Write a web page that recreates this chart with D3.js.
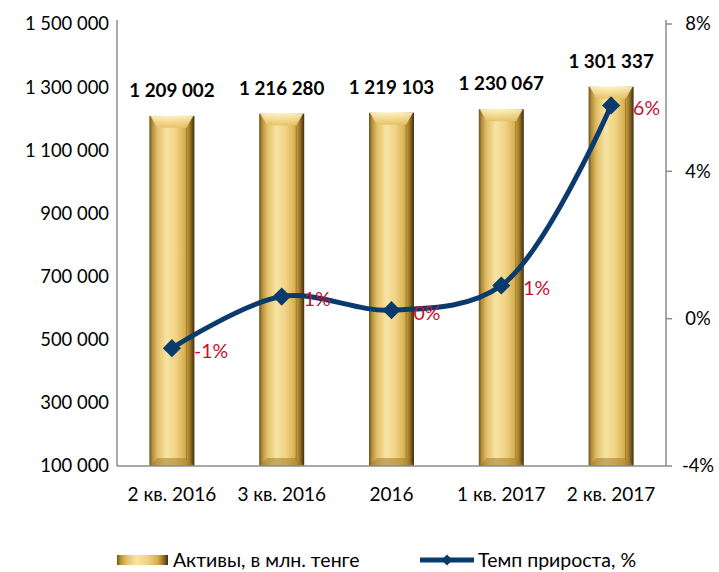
<!DOCTYPE html>
<html>
<head>
<meta charset="utf-8">
<script src="https://cdn.jsdelivr.net/npm/d3@7"></script>
<style>
  body { margin: 0; background: #fff; }
  text { font-family: Lato, "Noto Sans", sans-serif; }
</style>
</head>
<body>
<div id="chart"></div>
<script>
var categories = ["2 кв. 2016", "3 кв. 2016", "2016", "1 кв. 2017", "2 кв. 2017"];
var assets = [1209002, 1216280, 1219103, 1230067, 1301337];
var growth = [-0.8, 0.6, 0.23, 0.9, 5.79];
var growthLabels = ["-1%", "1%", "0%", "1%", "6%"];
var leftTicks = [100000, 300000, 500000, 700000, 900000, 1100000, 1300000, 1500000];
var rightTicks = [-4, 0, 4, 8];

var W = 719, H = 572;
var m = { left: 117, right: 53, top: 24, bottom: 106 };
var fmt = function (v) { return d3.format(",")(v).replace(/,/g, " "); };
var navy = "#0b3a6c";

var svg = d3.select("#chart").append("svg")
    .attr("width", W)
    .attr("height", H);

var defs = svg.append("defs");
var grad = defs.append("linearGradient").attr("id", "gold").attr("x1", 0).attr("x2", 1).attr("y1", 0).attr("y2", 0);
[["0%", "#6b5420"], ["7%", "#b8913a"], ["18%", "#e2c06a"], ["38%", "#f7e4a3"], ["60%", "#f0d184"], ["80%", "#d6ae4c"], ["90%", "#9c7628"], ["100%", "#3e2e10"]]
    .forEach(function (s) { grad.append("stop").attr("offset", s[0]).attr("stop-color", s[1]); });

var topGrad = defs.append("linearGradient").attr("id", "goldTop").attr("x1", 0).attr("x2", 0).attr("y1", 0).attr("y2", 1);
topGrad.append("stop").attr("offset", "0%").attr("stop-color", "#fff3c4");
topGrad.append("stop").attr("offset", "100%").attr("stop-color", "#e6c063");

var x = d3.scaleBand()
    .domain(categories)
    .range([m.left, W - m.right])
    .paddingInner(0.59)
    .paddingOuter(0.295);

var y = d3.scaleLinear()
    .domain([100000, 1500000])
    .range([H - m.bottom, m.top]);

var y2 = d3.scaleLinear()
    .domain([-4, 8])
    .range([H - m.bottom, m.top]);

// bars
var bars = svg.append("g").selectAll("g")
    .data(assets)
    .enter()
    .append("g")
    .attr("transform", function (d, i) { return "translate(" + x(categories[i]) + ",0)"; });

bars.append("rect")
    .attr("x", 0)
    .attr("y", function (d) { return y(d); })
    .attr("width", x.bandwidth())
    .attr("height", function (d) { return y(100000) - y(d); })
    .attr("fill", "url(#gold)");

// top bevel
bars.append("path")
    .attr("d", function (d) {
        var t = y(d), w = x.bandwidth();
        return "M1," + t + "L" + (w - 1) + "," + t + "L" + (w - 8) + "," + (t + 12) + "L8," + (t + 12) + "Z";
    })
    .attr("fill", "url(#goldTop)")
    .attr("opacity", 0.9);

// inner right edge
bars.append("line")
    .attr("x1", function () { return x.bandwidth() - 8; })
    .attr("x2", function () { return x.bandwidth() - 8; })
    .attr("y1", function (d) { return y(d) + 12; })
    .attr("y2", y(100000) - 6)
    .attr("stroke", "#7a5a1c")
    .attr("stroke-opacity", 0.5)
    .attr("stroke-width", 1);

// bottom bevel
bars.append("path")
    .attr("d", function () {
        var b = y(100000), w = x.bandwidth();
        return "M0," + b + "L" + w + "," + b + "L" + (w - 8) + "," + (b - 8) + "L8," + (b - 8) + "Z";
    })
    .attr("fill", "#a27b2b")
    .attr("opacity", 0.55);

// value labels
svg.append("g").selectAll("text")
    .data(assets)
    .enter()
    .append("text")
    .attr("x", function (d, i) { return x(categories[i]) + x.bandwidth() / 2; })
    .attr("y", function (d) { return y(d) - 19; })
    .attr("text-anchor", "middle")
    .attr("font-size", 18.8)
    .attr("font-weight", "bold")
    .attr("fill", "#000")
    .text(fmt);

// axes lines
var axisColor = "#8c8c8c";
svg.append("line").attr("x1", m.left).attr("x2", m.left).attr("y1", m.top - 4).attr("y2", H - m.bottom).attr("stroke", axisColor).attr("stroke-width", 1.5);
svg.append("line").attr("x1", W - m.right).attr("x2", W - m.right).attr("y1", m.top - 4).attr("y2", H - m.bottom).attr("stroke", axisColor).attr("stroke-width", 1.5);
svg.append("line").attr("x1", m.left).attr("x2", W - m.right).attr("y1", H - m.bottom).attr("y2", H - m.bottom).attr("stroke", axisColor).attr("stroke-width", 1.5);

// right axis tick marks
svg.append("g").selectAll("line")
    .data(rightTicks)
    .enter()
    .append("line")
    .attr("x1", W - m.right)
    .attr("x2", W - m.right + 6)
    .attr("y1", function (d) { return y2(d); })
    .attr("y2", function (d) { return y2(d); })
    .attr("stroke", axisColor)
    .attr("stroke-width", 1.5);

// left tick labels
svg.append("g").selectAll("text")
    .data(leftTicks)
    .enter()
    .append("text")
    .attr("x", m.left - 8)
    .attr("y", function (d) { return y(d); })
    .attr("dy", "0.35em")
    .attr("text-anchor", "end")
    .attr("font-size", 18.4)
    .attr("fill", "#000")
    .text(fmt);

// right tick labels
svg.append("g").selectAll("text")
    .data(rightTicks)
    .enter()
    .append("text")
    .attr("x", W - m.right + 32)
    .attr("y", function (d) { return y2(d); })
    .attr("dy", "0.35em")
    .attr("text-anchor", "middle")
    .attr("font-size", 18.4)
    .attr("fill", "#000")
    .text(function (d) { return d + "%"; });

// category labels
svg.append("g").selectAll("text")
    .data(categories)
    .enter()
    .append("text")
    .attr("x", function (d) { return x(d) + x.bandwidth() / 2; })
    .attr("y", H - m.bottom + 28)
    .attr("dy", "0.35em")
    .attr("text-anchor", "middle")
    .attr("font-size", 19)
    .attr("fill", "#000")
    .text(function (d) { return d; });

// growth line
var line = d3.line()
    .x(function (d, i) { return x(categories[i]) + x.bandwidth() / 2; })
    .y(function (d) { return y2(d); })
    .curve(d3.curveCatmullRom.alpha(0.5));

svg.append("path")
    .datum(growth)
    .attr("d", line)
    .attr("fill", "none")
    .attr("stroke", navy)
    .attr("stroke-width", 5);

var marker = d3.symbol().type(d3.symbolSquare).size(165);
svg.append("g").selectAll("path")
    .data(growth)
    .enter()
    .append("path")
    .attr("d", marker)
    .attr("transform", function (d, i) {
        return "translate(" + (x(categories[i]) + x.bandwidth() / 2) + "," + y2(d) + ") rotate(45)";
    })
    .attr("fill", navy);

svg.append("g").selectAll("text")
    .data(growth)
    .enter()
    .append("text")
    .attr("x", function (d, i) { return x(categories[i]) + x.bandwidth() / 2 + 22; })
    .attr("y", function (d) { return y2(d) + 3; })
    .attr("dy", "0.35em")
    .attr("font-size", 19.5)
    .attr("fill", "#c8102e")
    .text(function (d, i) { return growthLabels[i]; });

// legend
var lg = svg.append("g").attr("transform", "translate(0," + 560 + ")");
lg.append("rect").attr("x", 117).attr("y", -5).attr("width", 51).attr("height", 10).attr("fill", "url(#gold)");
lg.append("text").attr("x", 173).attr("y", 0).attr("dy", "0.35em").attr("font-size", 19.5).text("Активы, в млн. тенге");
lg.append("line").attr("x1", 420).attr("x2", 474).attr("y1", 0).attr("y2", 0).attr("stroke", navy).attr("stroke-width", 5);
lg.append("path").attr("d", d3.symbol().type(d3.symbolSquare).size(60)).attr("transform", "translate(447,0) rotate(45)").attr("fill", navy);
lg.append("text").attr("x", 478).attr("y", 0).attr("dy", "0.35em").attr("font-size", 19.5).text("Темп прироста, %");
</script>
</body>
</html>
